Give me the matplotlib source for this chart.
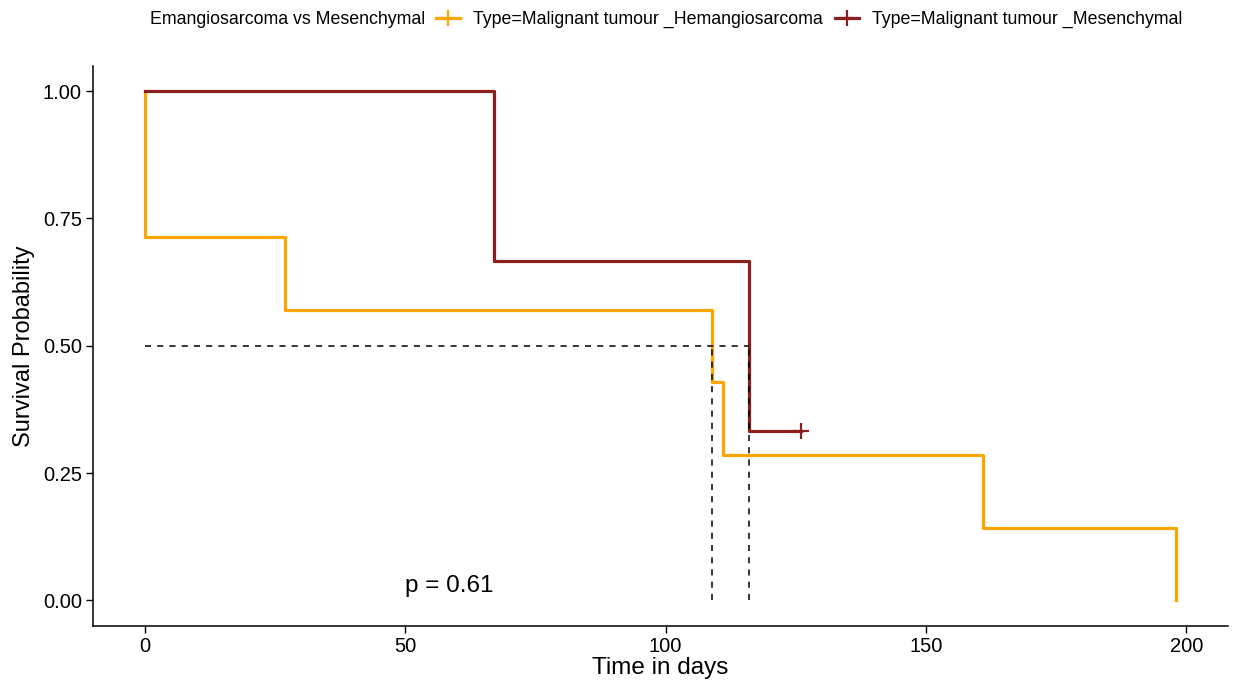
import matplotlib.pyplot as plt
from matplotlib.lines import Line2D

plt.rcParams['font.family'] = ['Liberation Sans', 'DejaVu Sans']

# Kaplan-Meier step data
hem_time = [0, 0, 27, 109, 111, 161, 198]
hem_surv = [1.0, 0.714, 0.571, 0.429, 0.286, 0.143, 0.0]
mes_time = [0, 67, 116, 126]
mes_surv = [1.0, 0.667, 0.333, 0.333]
mes_censor_time = [126]
mes_censor_surv = [0.333]
medians = [109, 116]
p_text = 'p = 0.61'

hem_color = '#FFA500'
mes_color = '#8B1E1E'

fig = plt.figure(figsize=(12.4, 6.84), dpi=100)
ax = fig.add_axes([0.075, 0.085, 0.915, 0.819])

ax.step(hem_time, hem_surv, where='post', color=hem_color, lw=2.3)
ax.step(mes_time, mes_surv, where='post', color=mes_color, lw=2.3)
ax.plot(mes_censor_time, mes_censor_surv, '+', color=mes_color, ms=11, mew=1.6)

# median survival lines
ax.plot([0, max(medians)], [0.5, 0.5], ls=(0, (4, 4)), color='black', lw=1.1)
for m in medians:
    ax.plot([m, m], [0, 0.5], ls=(0, (4, 4)), color='black', lw=1.1)

ax.text(50, 0.028, p_text, fontsize=17.5, ha='left', va='center')

ax.set_xlim(-9.9, 207.9)
ax.set_ylim(-0.05, 1.05)
ax.set_xticks([0, 50, 100, 150, 200])
ax.set_yticks([0, 0.25, 0.5, 0.75, 1.0])
ax.set_yticklabels(['0.00', '0.25', '0.50', '0.75', '1.00'])
ax.tick_params(labelsize=14.5, length=5, width=1.0, colors='black', pad=3)
for s in ['top', 'right']:
    ax.spines[s].set_visible(False)
for s in ['left', 'bottom']:
    ax.spines[s].set_linewidth(1.1)
ax.set_xlabel('Time in days', fontsize=17.5, labelpad=1)
ax.set_ylabel('Survival Probability', fontsize=17, labelpad=6)

fig.text(0.121, 0.971, 'Emangiosarcoma vs Mesenchymal', fontsize=12.75, va='center')
handles = [Line2D([], [], color=hem_color, lw=2.3, marker='+', ms=11, mew=1.6),
           Line2D([], [], color=mes_color, lw=2.3, marker='+', ms=11, mew=1.6)]
labels = ['Type=Malignant tumour _Hemangiosarcoma', 'Type=Malignant tumour _Mesenchymal']
fig.legend(handles, labels, loc='center left', bbox_to_anchor=(0.352, 0.971), ncol=2,
           frameon=False, fontsize=12.75, handlelength=1.35, handletextpad=0.73,
           columnspacing=0.68, numpoints=1, borderaxespad=0, borderpad=0)

fig.savefig('out.png', dpi=100)
